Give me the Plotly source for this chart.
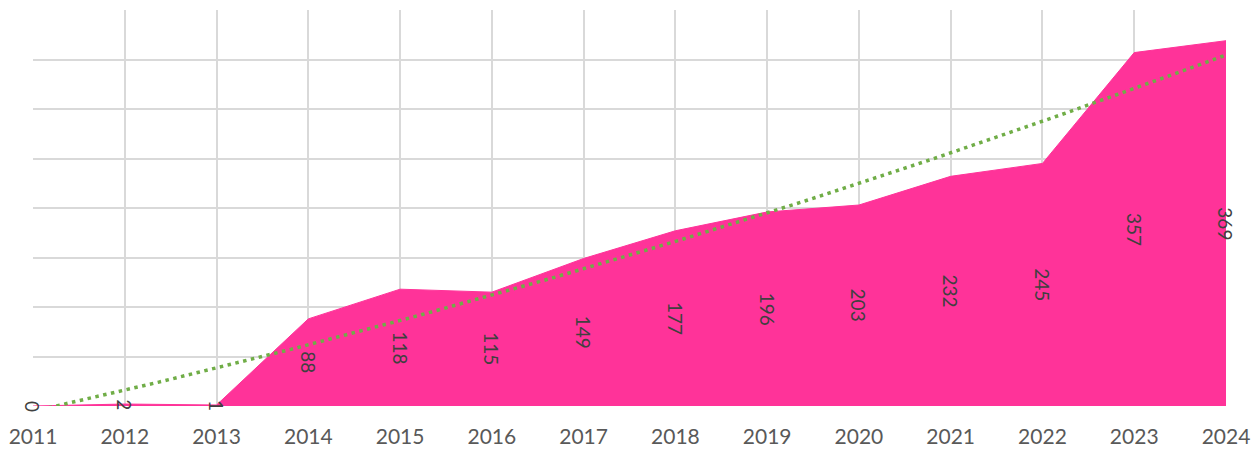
import numpy as np
import plotly.graph_objects as go

years = [2011, 2012, 2013, 2014, 2015, 2016, 2017, 2018, 2019, 2020, 2021, 2022, 2023, 2024]
counts = [0, 2, 1, 88, 118, 115, 149, 177, 196, 203, 232, 245, 357, 369]
year_labels = [str(y) for y in years]

AREA = "#FF3399"
TREND = "#70AD47"
GRID = "#D9D9D9"
FONT = "Lato, Carlito, Calibri, sans-serif"

# second-order polynomial trend fitted on the series
idx = np.arange(1, len(years) + 1)
coef = np.polyfit(idx, counts, 2)
fine = np.linspace(1, len(years), 200)
trend_y = np.polyval(coef, fine)
trend_x = years[0] + (fine - 1)

fig = go.Figure()
fig.add_trace(go.Scatter(
    x=years, y=counts, mode="lines", fill="tozeroy",
    fillcolor=AREA, line=dict(color=AREA, width=1), hoverinfo="skip",
))
fig.add_trace(go.Scatter(
    x=trend_x, y=trend_y, mode="lines",
    line=dict(color=TREND, width=3.5, dash="3.5px,4.5px"), hoverinfo="skip",
))

for yr, v in zip(years, counts):
    fig.add_annotation(
        x=yr, y=v / 2, text=str(v), textangle=90, showarrow=False,
        font=dict(family=FONT, size=19, color="#404040"),
        xanchor="center", yanchor="middle",
    )

fig.update_layout(
    width=1260, height=451,
    margin=dict(l=33, r=34, t=10, b=45),
    paper_bgcolor="white", plot_bgcolor="white",
    showlegend=False,
    xaxis=dict(
        range=[2011, 2024], tickmode="array", tickvals=years, ticktext=year_labels,
        showgrid=True, gridcolor=GRID, gridwidth=2, zeroline=False, showline=False,
        tickfont=dict(family=FONT, size=21, color="#595959"), ticks="",
        ticklabelstandoff=16, automargin=False,
    ),
    yaxis=dict(
        range=[0, 400], dtick=50, showgrid=True, gridcolor=GRID, gridwidth=2,
        showticklabels=False, zeroline=False, showline=False, ticks="",
        automargin=False,
    ),
)

fig.write_html("out.html")
